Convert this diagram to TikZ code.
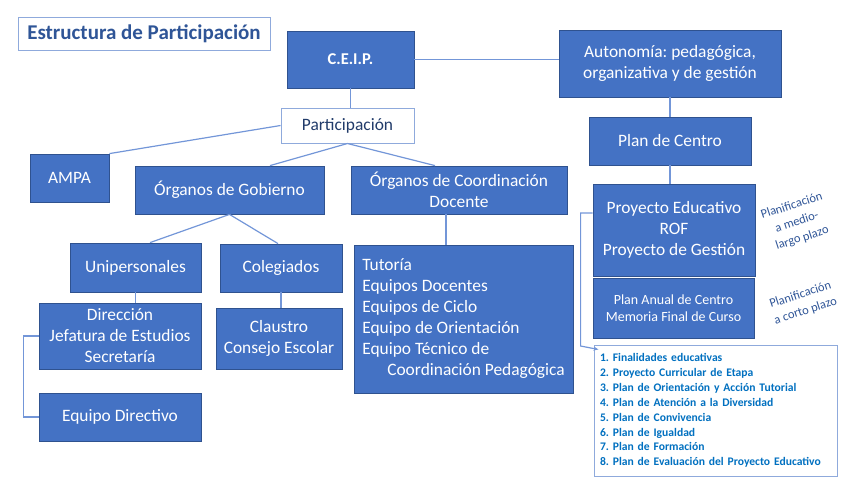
\documentclass[tikz,border=0pt]{standalone}
\usepackage{fontspec}
\setmainfont{Carlito}
\usetikzlibrary{positioning, arrows.meta}
\definecolor{boxblue}{HTML}{4472C4}
\definecolor{boxline}{HTML}{2F528F}
\definecolor{lightline}{HTML}{8FAADC}
\definecolor{linkblue}{HTML}{7396D8}
\definecolor{titleblue}{HTML}{2F5597}
\definecolor{listblue}{HTML}{0070C0}
\frenchspacing

\begin{document}
\begin{tikzpicture}[x=1pt, y=-1pt,
    box/.style={draw=boxline, fill=boxblue, text=white, line width=0.8pt,
        align=center, inner sep=2pt, font=\fontsize{17.4}{21}\selectfont},
    lbox/.style={draw=lightline, fill=white, line width=1pt, inner sep=2pt},
    conn/.style={draw=linkblue, line width=1.2pt},
    note/.style={text=titleblue, rotate=18, align=center,
        font=\fontsize{12.5}{17}\selectfont}]
    \useasboundingbox (0,0) rectangle (848,477);

    % left side
    \node[lbox, minimum width=252pt, minimum height=33pt, text=titleblue,
        font=\fontsize{21}{24}\selectfont\bfseries] (title) at (144,33.5) {Estructura de Participación};
    \node[box, minimum width=127pt, minimum height=57pt, font=\fontsize{16.5}{21}\selectfont\bfseries] (ceip) at (350.5,59.5) {C.E.I.P.};
    \node[lbox, minimum width=133pt, minimum height=35pt, text=titleblue!70!black,
        font=\fontsize{17.4}{21}\selectfont] (part) at (347.5,125.5) {Participación};
    \node[box, minimum width=79pt, minimum height=48pt] (ampa) at (69.5,178) {AMPA};
    \node[box, minimum width=189pt, minimum height=48pt] (gob) at (229.5,190) {Órganos de Gobierno};
    \node[box, minimum width=216pt, minimum height=48pt] (coord) at (459,190) {Órganos de Coordinación\\Docente};
    \node[box, minimum width=131pt, minimum height=49pt] (unip) at (135.5,267.5) {Unipersonales};
    \node[box, minimum width=122pt, minimum height=48pt] (coleg) at (281,268) {Colegiados};
    \node[box, minimum width=162pt, minimum height=66pt] (dir) at (120,336) {Dirección\\Jefatura de Estudios\\Secretaría};
    \node[box, minimum width=126pt, minimum height=61pt] (claus) at (279,338.5) {Claustro\\Consejo Escolar};
    \node[box, minimum width=162pt, minimum height=48pt] (eqdir) at (120,417) {Equipo Directivo};
    \node[box, align=left, minimum width=219pt, minimum height=148pt] (tut) at (463.5,319)
        {Tutoría\\Equipos Docentes\\Equipos de Ciclo\\Equipo de Orientación\\Equipo Técnico de\\\hspace*{25pt}Coordinación Pedagógica};

    % right side
    \node[box, minimum width=222pt, minimum height=67pt] (auto) at (670,63.5) {Autonomía: pedagógica,\\organizativa y de gestión};
    \node[box, minimum width=162pt, minimum height=48pt] (plan) at (670,141) {Plan de Centro};
    \node[box, minimum width=162pt, minimum height=92pt] (proy) at (674,230) {Proyecto Educativo\\ROF\\Proyecto de Gestión};
    \node[box, minimum width=161pt, minimum height=60pt, font=\fontsize{14}{16.5}\selectfont] (anual) at (673.5,308) {Plan Anual de Centro\\Memoria Final de Curso};
    \node[lbox, minimum width=243pt, minimum height=131pt, text width=231pt, inner xsep=6pt,
        align=left, text=listblue, font=\fontsize{11.6}{14.9}\selectfont\bfseries] (list) at (715.5,410.5)
        {1. Finalidades educativas\\2. Proyecto Curricular de Etapa\\3. Plan de Orientación y Acción Tutorial\\4. Plan de Atención a la Diversidad\\5. Plan de Convivencia\\6. Plan de Igualdad\\7. Plan de Formación\\8. Plan de Evaluación del Proyecto Educativo};
    \node[note] (medio) at (797,222) {Planificación\\a medio-\\largo plazo};
    \node[note] (corto) at (803,303) {Planificación\\a corto plazo};

    % connectors
    \path[conn]
        (ceip.east)  edge (ceip.east -| auto.west)
        (ceip.south) edge (ceip.south |- part.north)
        (part.west)  edge (ampa.north east)
        (part.south) edge ([xshift=40.5pt]gob.north)
                     edge ([xshift=-24pt]coord.north)
        (gob.south)  edge ([xshift=14.5pt]unip.north)
                     edge ([xshift=-3pt]coleg.north)
        (unip.south) edge (unip.south |- dir.north)
        (coleg.south) edge (coleg.south |- claus.north)
        ([xshift=-13pt]coord.south) edge ([xshift=-13pt]coord.south |- tut.north)
        (auto.south) edge (plan.north)
        (plan.south) edge (plan.south |- proy.north);
    \draw[conn] (dir.west) -- ++(-15,0) |- (eqdir.west);
    \draw[conn, -{Stealth[length=5pt, width=4pt]}] ([yshift=17pt]proy.west) -- ++(-12,0) -- ++(0,133)
        -- ([xshift=5pt, yshift=-5pt]list.north west);
\end{tikzpicture}
\end{document}
